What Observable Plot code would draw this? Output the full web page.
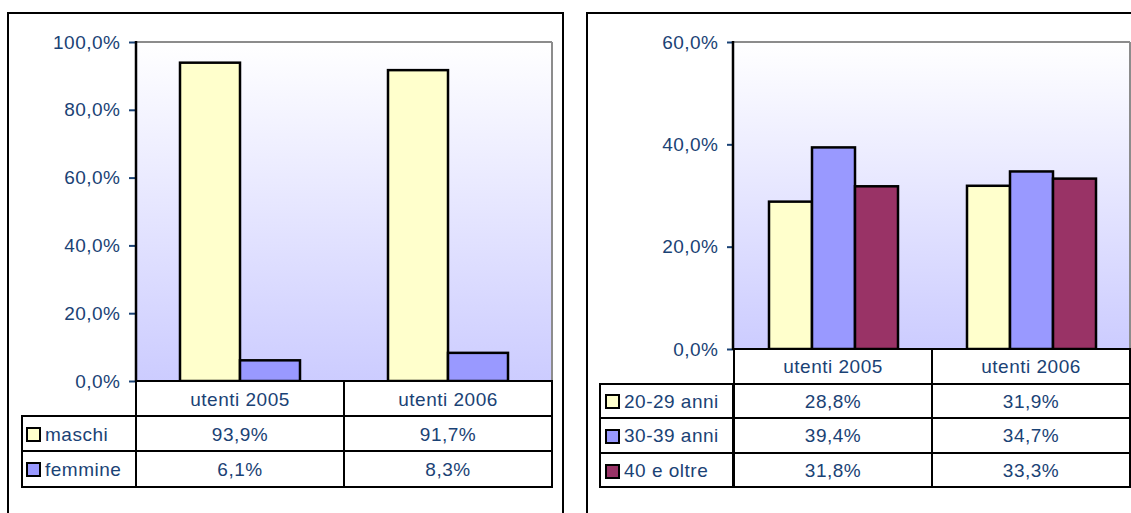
<!DOCTYPE html>
<html>
<head>
<meta charset="utf-8">
<script src="https://cdn.jsdelivr.net/npm/d3@7"></script>
<script src="https://cdn.jsdelivr.net/npm/@observablehq/plot@0.6"></script>
<style>
  html, body { margin: 0; padding: 0; background: #fff; }
  #stage { position: relative; width: 1131px; height: 513px; overflow: hidden; background: #fff;
           font-family: "Liberation Sans", Arial, sans-serif; }
  .panel { position: absolute; border: 2px solid #000; box-sizing: border-box; background: #fff; }
  .cell { position: absolute; box-sizing: border-box; border: 2px solid #000; background: #fff;
          display: flex; align-items: center; justify-content: center; padding-top: 2px;
          font-size: 19px; letter-spacing: 0.5px; color: #1a4275; white-space: nowrap; }
  .cell.leg { justify-content: flex-start; }
  .sw { width: 15px; height: 15px; box-sizing: border-box; border: 2px solid #000; flex: none; margin-right: 4px; }
  #stage svg g[aria-label="y-axis tick"] { stroke: #000; stroke-width: 2px; }
</style>
</head>
<body>
<div id="stage">
  <div class="panel" style="left:7px; top:12px; width:557px; height:600px;"></div>
  <div class="panel" style="left:586px; top:12px; width:600px; height:600px;"></div>
</div>
<script>
const FONT = '"Liberation Sans", Arial, sans-serif';
const TEXT = "#1a4275";

// ---- data ----
const years = ["utenti 2005", "utenti 2006"];

const genderSeries = ["maschi", "femmine"];
const maschi = [93.9, 91.7];
const femmine = [6.1, 8.3];
const genderColors = ["#ffffcc", "#9999ff"];
const genderTicks = [0, 20, 40, 60, 80, 100];

const ageSeries = ["20-29 anni", "30-39 anni", "40 e oltre"];
const anni2029 = [28.8, 31.9];
const anni3039 = [39.4, 34.7];
const oltre40 = [31.8, 33.3];
const ageColors = ["#ffffcc", "#9999ff", "#993366"];
const ageTicks = [0, 20, 40, 60];

const fmtPct = d => d.toFixed(1).replace(".", ",") + "%";
const stage = document.getElementById("stage");

function panel(cfg) {
  const data = years.flatMap((year, i) =>
    cfg.series.map((s, j) => ({year, series: s, value: cfg.values[j][i]})));

  const chart = Plot.plot({
    width: cfg.width, height: cfg.height,
    marginLeft: cfg.ml, marginRight: cfg.mr, marginTop: cfg.mt, marginBottom: cfg.mb,
    style: {fontFamily: FONT, fontSize: "19px", color: TEXT, background: "transparent",
            overflow: "visible", letterSpacing: "0.5px"},
    fx: {domain: years, padding: 0, axis: null, label: null},
    x: {domain: cfg.series, paddingInner: 0, paddingOuter: cfg.padOuter, axis: null},
    y: {domain: [0, cfg.yMax], ticks: cfg.ticks, tickFormat: fmtPct, tickSize: 7, tickPadding: 9, label: null},
    color: {domain: cfg.series, range: cfg.colors},
    marks: [
      Plot.barY(data, {fx: "year", x: "series", y: "value", fill: "series", stroke: "#000", strokeWidth: 2.5})
    ]
  });

  const svg = d3.select(chart);
  const fx = chart.scale("fx");
  const [xl, xr] = fx.range;
  const [yb, yt] = chart.scale("y").range;

  const defs = svg.insert("defs", ":first-child");
  const grad = defs.append("linearGradient")
    .attr("id", cfg.gid).attr("x1", 0).attr("y1", 0).attr("x2", 0).attr("y2", 1);
  grad.append("stop").attr("offset", "0%").attr("stop-color", "#ffffff");
  grad.append("stop").attr("offset", "100%").attr("stop-color", "#ccccff");
  const bg = document.createElementNS("http://www.w3.org/2000/svg", "rect");
  bg.setAttribute("x", xl); bg.setAttribute("y", yt);
  bg.setAttribute("width", xr - xl); bg.setAttribute("height", yb - yt);
  bg.setAttribute("fill", `url(#${cfg.gid})`);
  chart.insertBefore(bg, defs.node().nextSibling);

  const g = svg.append("g");
  g.append("line").attr("x1", xl).attr("x2", xr).attr("y1", yt).attr("y2", yt)
    .attr("stroke", "#8c8c8c").attr("stroke-width", 2);
  g.append("line").attr("x1", xr).attr("x2", xr).attr("y1", yt).attr("y2", yb)
    .attr("stroke", "#8c8c8c").attr("stroke-width", 2);
  g.append("line").attr("x1", xl).attr("x2", xr).attr("y1", yb).attr("y2", yb)
    .attr("stroke", "#000").attr("stroke-width", 2);
  g.append("line").attr("x1", xl).attr("x2", xl).attr("y1", yt - 1).attr("y2", yb + 1)
    .attr("stroke", "#000").attr("stroke-width", 2.5);

  chart.style.position = "absolute";
  chart.style.left = cfg.pageLeft + "px";
  chart.style.top = "0px";
  stage.appendChild(chart);

  // data table below the plot, aligned on the fx scale
  const off = cfg.pageLeft;
  const bw = fx.bandwidth;
  function cell(x0, x1, y0, y1, cls) {
    const d = document.createElement("div");
    d.className = "cell" + (cls ? " " + cls : "");
    d.style.left = (off + x0 - 1) + "px";
    d.style.top = (y0 - 1) + "px";
    d.style.width = (x1 - x0 + 2) + "px";
    d.style.height = (y1 - y0 + 2) + "px";
    stage.appendChild(d);
    return d;
  }
  years.forEach(yr => {
    const x0 = fx.apply(yr);
    cell(x0, x0 + bw, yb, yb + cfg.rowH).textContent = yr;
  });
  cfg.series.forEach((s, j) => {
    const r0 = yb + cfg.rowH * (j + 1), r1 = r0 + cfg.rowH;
    const lc = cell(cfg.legendLeft, xl, r0, r1, "leg");
    lc.style.paddingLeft = cfg.swPad + "px";
    const sw = document.createElement("span");
    sw.className = "sw";
    sw.style.background = cfg.colors[j];
    lc.appendChild(sw);
    lc.appendChild(document.createTextNode(s));
    years.forEach((yr, i) => {
      const x0 = fx.apply(yr);
      cell(x0, x0 + bw, r0, r1).textContent = fmtPct(cfg.values[j][i]);
    });
  });
}

panel({
  gid: "g1", pageLeft: 0, width: 563, height: 390, ml: 136, mr: 11, mt: 42, mb: 9,
  series: genderSeries, values: [maschi, femmine], colors: genderColors,
  ticks: genderTicks, yMax: 100, padOuter: 0.733, rowH: 35.2, legendLeft: 22, swPad: 3
});

panel({
  gid: "g2", pageLeft: 587, width: 560, height: 358, ml: 146, mr: 17, mt: 42, mb: 9,
  series: ageSeries, values: [anni2029, anni3039, oltre40], colors: ageColors,
  ticks: ageTicks, yMax: 60, padOuter: 0.756, rowH: 34.6, legendLeft: 13, swPad: 4
});
</script>
</body>
</html>
